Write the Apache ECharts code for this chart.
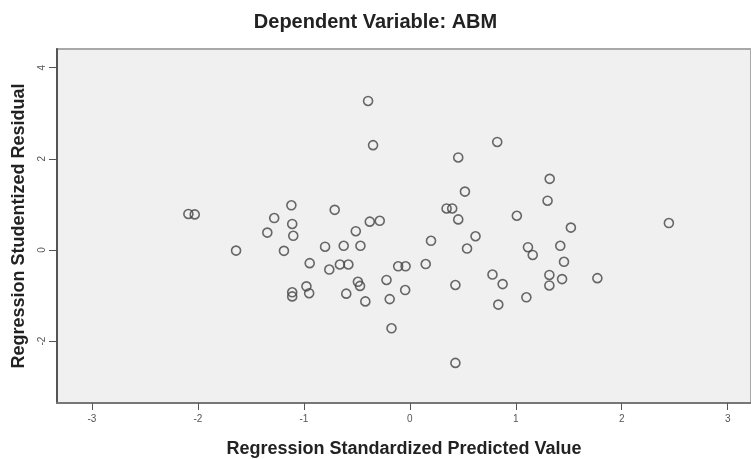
<!DOCTYPE html>
<html><head><meta charset="utf-8">
<script src="https://cdn.jsdelivr.net/npm/echarts@6/dist/echarts.min.js"></script>
<style>html,body{margin:0;padding:0;background:#fff}#c{width:751px;height:459px}</style>
</head><body><div id="c"></div>
<script>
const titleText = "Dependent Variable: ABM";
const xTitle = "Regression Standardized Predicted Value";
const yTitle = "Regression Studentized Residual";
const xTicks = [-3, -2, -1, 0, 1, 2, 3];
const yTicks = [-2, 0, 2, 4];
const predicted = [-0.394,-0.347,0.457,-2.09,-2.03,-1.118,-1.28,-1.11,-1.345,-1.10,-0.709,-0.51,-0.378,-0.284,0.347,0.40,0.457,0.20,-1.64,-1.188,-0.945,-0.80,-0.76,-0.624,-0.66,-0.58,-0.466,-0.49,-0.47,-0.22,-0.11,-0.04,0.15,-0.976,-0.95,-1.11,-1.11,-0.60,-0.42,-0.19,-0.044,-0.173,0.43,0.43,0.825,1.32,1.30,0.52,1.01,1.52,2.445,0.62,0.54,1.115,1.16,1.42,1.455,0.78,0.876,1.317,1.317,1.437,1.77,1.10,0.835];
const residual = [3.27,2.30,2.03,0.79,0.78,0.98,0.70,0.57,0.38,0.31,0.88,0.41,0.62,0.64,0.91,0.91,0.67,0.20,-0.015,-0.02,-0.29,0.07,-0.43,0.09,-0.32,-0.32,0.09,-0.70,-0.79,-0.66,-0.36,-0.36,-0.31,-0.80,-0.95,-0.93,-1.02,-0.96,-1.13,-1.08,-0.88,-1.72,-0.77,-2.48,2.37,1.56,1.08,1.28,0.75,0.49,0.59,0.30,0.03,0.06,-0.11,0.09,-0.26,-0.54,-0.75,-0.55,-0.78,-0.64,-0.62,-1.04,-1.20];
const points = predicted.map((x, i) => [x, residual[i]]);
const font = "'Liberation Sans', Arial, sans-serif";
const chart = echarts.init(document.getElementById('c'), null, {renderer: 'canvas'});
chart.setOption({
  animation: false,
  backgroundColor: '#ffffff',
  title: {text: titleText, left: 'center', top: 7,
    textStyle: {fontFamily: font, fontWeight: 'bold', fontSize: 20, color: '#222'}},
  grid: {left: 57, right: 0, top: 49, bottom: 56, show: true, outerBoundsMode: 'none', containLabel: false,
    backgroundColor: '#f0f0f0', borderColor: '#a8a8a8', borderWidth: 2},
  xAxis: {type: 'value', min: -3.33, max: 3.22,
    name: xTitle, nameLocation: 'middle', nameGap: 37,
    nameTextStyle: {fontFamily: font, fontWeight: 'bold', fontSize: 18, color: '#222'},
    axisLine: {show: true, onZero: false, lineStyle: {color: '#777', width: 2}},
    axisTick: {show: true, length: 7, customValues: xTicks, lineStyle: {color: '#555'}},
    axisLabel: {customValues: xTicks, fontFamily: font, fontSize: 10, color: '#555', margin: 11},
    splitLine: {show: false}},
  yAxis: {type: 'value', min: -3.36, max: 4.41,
    name: yTitle, nameLocation: 'middle', nameGap: 29,
    nameTextStyle: {fontFamily: font, fontWeight: 'bold', fontSize: 18, color: '#222'},
    axisLine: {show: true, onZero: false, lineStyle: {color: '#555', width: 2}},
    axisTick: {show: true, length: 8, customValues: yTicks, lineStyle: {color: '#555'}},
    axisLabel: {customValues: yTicks, rotate: 90, fontFamily: font, fontSize: 10, color: '#555', margin: 10},
    splitLine: {show: false}},
  series: [{type: 'scatter', data: points, symbol: 'circle', symbolSize: 9,
    itemStyle: {color: 'rgba(0,0,0,0)', borderColor: '#444', borderWidth: 1.6}}]
});
</script></body></html>
